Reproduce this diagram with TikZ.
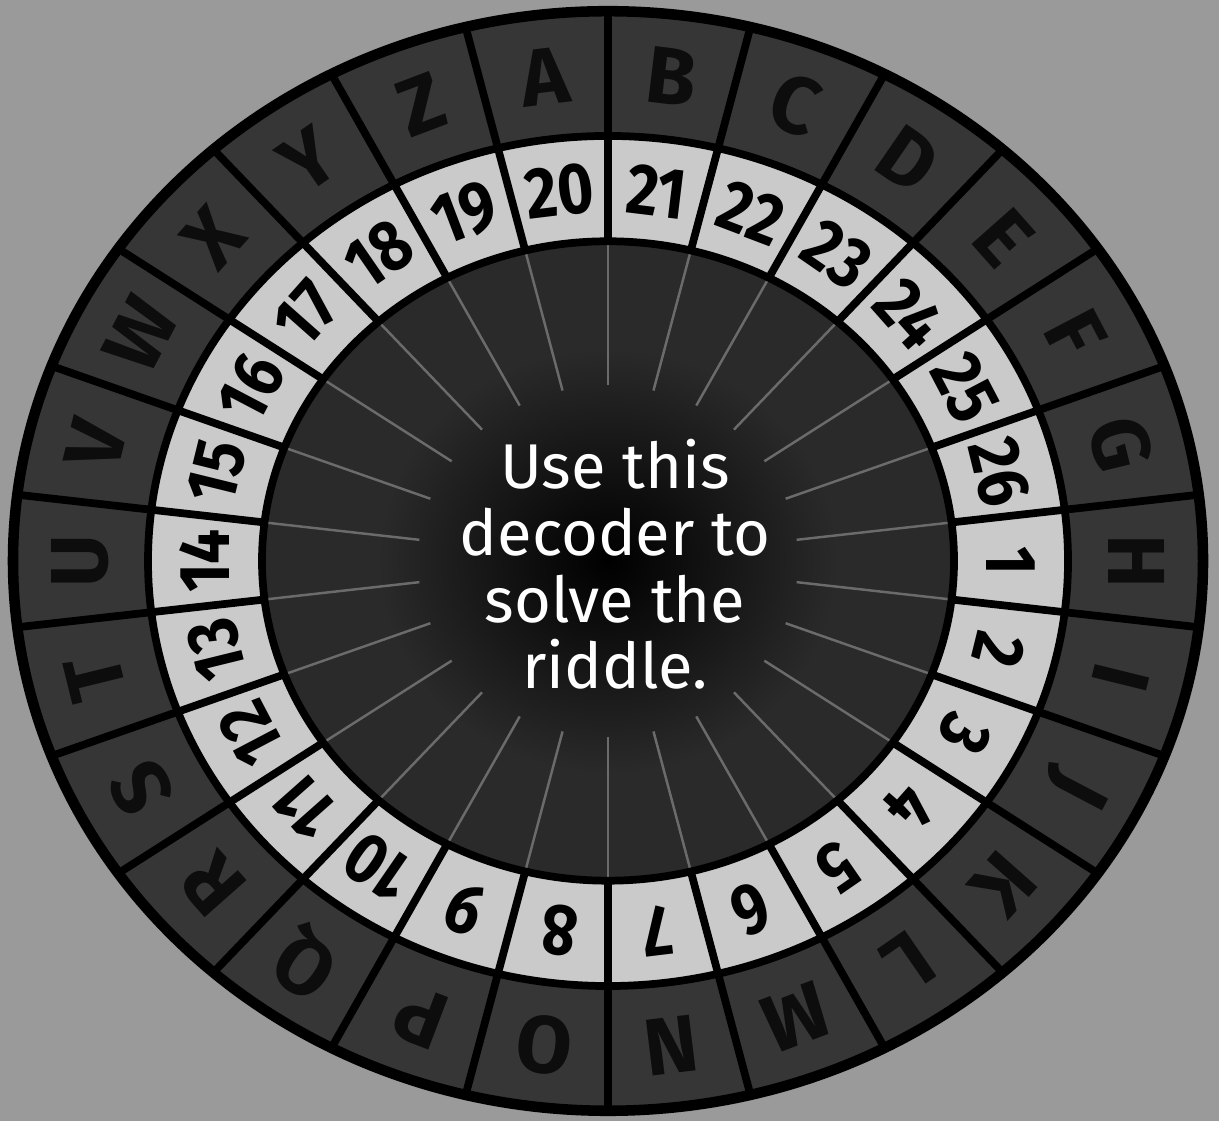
\documentclass[tikz,border=0pt]{standalone}
\usepackage{fontspec}
\setmainfont{Fira Sans}
\newfontfamily\digitfont[FakeStretch=0.86]{Fira Sans}
\usetikzlibrary{positioning}
\definecolor{PaperGray}{HTML}{9A9A9A}
\definecolor{RingDark}{HTML}{363636}
\definecolor{RingLight}{HTML}{CACACA}
\definecolor{DiskDark}{HTML}{2A2A2A}
\tikzset{
  numlabel/.style={font=\digitfont\bfseries\fontsize{20.5}{20.5}\selectfont,text=black,inner sep=0pt},
  letterlabel/.style={font=\bfseries\fontsize{23}{23}\selectfont,text=black!95,inner sep=0pt},
  ringline/.style={line width=2.2pt,draw=black},
  rimline/.style={line width=3pt,draw=black},
  spokeline/.style={line width=0.7pt,draw=black!58},
  msgtext/.style={font=\fontsize{18}{19}\selectfont,text=white,align=center,inner sep=0pt}
}
\begin{document}
\begin{tikzpicture}
\fill[PaperGray] (0,0) rectangle (12.19,11.21);
\coordinate (C) at (6.08,5.60);
\begin{scope}[shift={(C)},yscale=0.924]
  % rings
  \fill[RingDark] (0,0) circle (5.95);
  \fill[RingLight] (0,0) circle (4.60);
  \fill[DiskDark] (0,0) circle (3.46);
  \shade[inner color=black,outer color=DiskDark] (0,0) circle (2.3);
  % number ring
  \foreach \k in {1,...,26} {
    \pgfmathsetmacro{\a}{-(\k-1)*360/26}
    \draw[spokeline] (\a+6.923:1.9) -- (\a+6.923:3.46);
    \draw[ringline] (\a+6.923:3.46) -- (\a+6.923:4.60);
    \draw[ringline] (\a+6.923:4.60) -- (\a+6.923:5.95);
    \node[numlabel,rotate=\a-90] (n\k) at (\a:4.03) {\k};
  }
  % letter ring
  \foreach \L [count=\i] in {A,...,Z} {
    \pgfmathsetmacro{\b}{-(\i-8)*360/26}
    \node[letterlabel,rotate=\b-90] (l\L) at (\b:5.28) {\L};
  }
  \draw[ringline] (0,0) circle (3.46);
  \draw[ringline] (0,0) circle (4.60);
  \draw[rimline] (0,0) circle (5.95);
\end{scope}
\node[msgtext] (msg) at ([xshift=2pt,yshift=-1pt]C) {Use this\\decoder to\\solve the\\riddle.};
\end{tikzpicture}
\end{document}
